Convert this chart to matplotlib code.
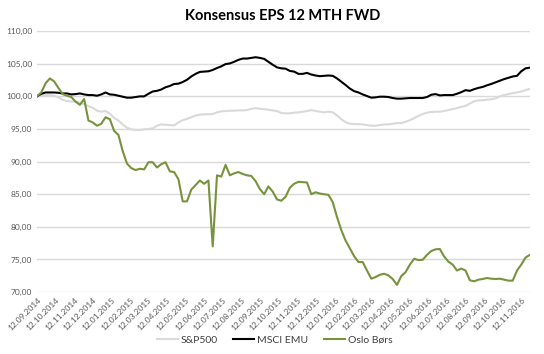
import numpy as np
import pandas as pd
import matplotlib
matplotlib.use("Agg")
import matplotlib.pyplot as plt
from matplotlib.ticker import FuncFormatter

# weekly observations from 12.09.2014
start = "2014-09-12"

sp500 = [100.0, 100.2, 100.2, 100.2, 100.1, 99.85, 99.45, 99.3, 99.2, 99.2,
         99.05, 98.8, 98.5, 98.25, 97.8, 97.65, 97.75, 97.35, 96.7, 96.3,
         95.7, 95.2, 94.95, 94.85, 94.85, 94.95, 95.0, 95.1, 95.5, 95.7,
         95.65, 95.6, 95.55, 96.0, 96.35, 96.55, 96.8, 97.05, 97.2, 97.25,
         97.25, 97.3, 97.55, 97.7, 97.75, 97.8, 97.8, 97.85, 97.85, 97.9,
         98.1, 98.2, 98.1, 98.05, 97.95, 97.85, 97.75, 97.45, 97.4, 97.4,
         97.5, 97.55, 97.65, 97.75, 97.9, 97.75, 97.65, 97.55, 97.65, 97.55,
         97.1, 96.5, 96.05, 95.8, 95.75, 95.75, 95.7, 95.6, 95.5, 95.5,
         95.6, 95.7, 95.7, 95.8, 95.9, 95.9, 96.1, 96.35, 96.65, 97.0,
         97.3, 97.5, 97.6, 97.65, 97.65, 97.75, 97.9, 98.05, 98.2, 98.4,
         98.55, 98.9, 99.25, 99.4, 99.4, 99.5, 99.55, 99.7, 100.0, 100.2,
         100.35, 100.5, 100.6, 100.75, 100.95, 101.15]

msci_emu = [100.0, 100.4, 100.6, 100.6, 100.6, 100.55, 100.45, 100.45, 100.3, 100.35,
            100.45, 100.3, 100.2, 100.2, 100.1, 100.3, 100.6, 100.3, 100.25, 100.1,
            99.95, 99.8, 99.8, 99.9, 100.0, 100.0, 100.4, 100.75, 100.85, 101.05,
            101.4, 101.6, 101.9, 101.95, 102.2, 102.55, 103.05, 103.45, 103.75, 103.8,
            103.85, 104.05, 104.35, 104.6, 104.95, 105.05, 105.3, 105.6, 105.8, 105.8,
            105.9, 106.0, 105.9, 105.75, 105.3, 104.85, 104.45, 104.3, 104.25, 103.9,
            103.8, 103.45, 103.45, 103.6, 103.35, 103.2, 103.1, 103.15, 103.2, 103.15,
            102.75, 102.25, 101.75, 101.2, 100.8, 100.6, 100.3, 100.05, 99.8, 99.85,
            99.95, 99.95, 99.9, 99.75, 99.65, 99.65, 99.7, 99.75, 99.75, 99.75,
            99.75, 99.9, 100.25, 100.35, 100.15, 100.2, 100.2, 100.2, 100.4, 100.65,
            100.95, 100.85, 101.1, 101.3, 101.45, 101.7, 101.9, 102.15, 102.4, 102.65,
            102.85, 103.05, 103.15, 103.85, 104.3, 104.4]

oslo = [100.0, 100.6, 102.0, 102.75, 102.3, 101.3, 100.35, 100.1, 99.9, 99.2,
        98.7, 99.6, 96.3, 96.0, 95.5, 95.8, 96.8, 96.5, 94.7, 94.1,
        91.6, 89.7, 89.0, 88.7, 88.9, 88.8, 89.9, 89.9, 89.1, 89.6,
        89.9, 88.5, 88.4, 87.3, 83.9, 83.9, 85.7, 86.4, 87.1, 86.6,
        87.1, 77.0, 87.9, 87.7, 89.5, 87.9, 88.2, 88.4, 88.1, 87.9,
        87.8, 87.0, 85.8, 85.0, 86.2, 85.4, 84.2, 84.0, 84.6, 86.0,
        86.6, 86.9, 86.85, 86.8, 85.0, 85.3, 85.1, 85.0, 84.9, 83.8,
        81.5, 79.5, 77.9, 76.7, 75.5, 74.6, 74.6, 73.3, 72.05, 72.3,
        72.65, 72.8, 72.55, 72.0, 71.1, 72.45, 73.05, 74.2, 75.1, 74.9,
        74.95, 75.7, 76.3, 76.55, 76.6, 75.45, 74.65, 74.2, 73.3, 73.6,
        73.3, 71.8, 71.65, 71.9, 72.0, 72.15, 72.05, 72.0, 72.05, 71.9,
        71.75, 71.75, 73.3, 74.2, 75.3, 75.7]

labels = ["S&P500", "MSCI EMU", "Oslo Børs"]
colors = ["#d9d9d9", "#000000", "#77933c"]

dates = pd.date_range(start, periods=len(oslo), freq="7D")
tick_dates = pd.date_range("2014-09-01", "2016-11-01", freq="MS") + pd.Timedelta(days=11)

plt.rcParams["font.family"] = ["Lato", "DejaVu Sans"]

fig = plt.figure(figsize=(5.44, 3.54), dpi=100)
ax = fig.add_axes([0.068, 0.175, 0.906, 0.737])

for vals, lab, col in zip([sp500, msci_emu, oslo], labels, colors):
    ax.plot(dates, vals, color=col, lw=1.5, label=lab)

ax.set_xlim(dates[0], dates[-1])
ax.set_ylim(70, 110)
ax.set_yticks(np.arange(70, 111, 5))
ax.yaxis.set_major_formatter(FuncFormatter(lambda v, p: f"{v:.2f}".replace(".", ",")))
ax.set_xticks(tick_dates)
ax.set_xticklabels([d.strftime("%d.%m.%Y") for d in tick_dates], rotation=45,
                   ha="right", rotation_mode="anchor")
ax.tick_params(axis="both", length=0, labelsize=6, colors="#595959")
ax.tick_params(axis="x", pad=3)
ax.grid(axis="y", color="#d9d9d9", lw=1)
ax.set_axisbelow(True)
for s in ax.spines.values():
    s.set_visible(False)

fig.suptitle("Konsensus EPS 12 MTH FWD", x=0.52, y=0.975, fontsize=10.5,
             fontweight="bold", color="#000000")
fig.legend(loc="lower center", bbox_to_anchor=(0.505, 0.0), ncol=3, frameon=False,
           fontsize=7.5, handlelength=2.0, handletextpad=0.3, columnspacing=1.5,
           labelcolor="#404040")

fig.savefig("out.png", dpi=100)
